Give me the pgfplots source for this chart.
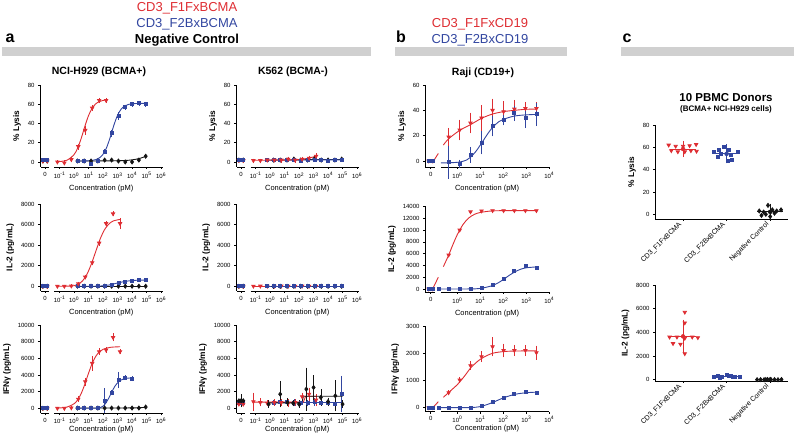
\documentclass[border=0pt]{standalone}
\usepackage{pgfplots}
\pgfplotsset{compat=1.18}
\usepackage{fontspec}
\setmainfont{Liberation Sans}
\definecolor{cR}{RGB}{222,45,50}
\definecolor{cB}{RGB}{50,70,160}
\definecolor{cK}{RGB}{20,20,20}
\definecolor{barg}{RGB}{208,208,208}
\newcommand\seg[2]{\draw[line width=0.8pt] ({axis cs:#1,0}|-{rel axis cs:0,0}) -- ({axis cs:#2,0}|-{rel axis cs:0,0});}
\pgfplotsset{
 gp/.style={scale only axis, anchor=south west,
  axis x line*=bottom, axis y line*=left,
  axis line style={line width=0.8pt},
  x axis line style={draw=none},
  tick align=outside, major tick length=2pt,
  tick style={line width=0.6pt, black},
  ticklabel style={font=\fontsize{6}{7}\selectfont},
  /pgf/number format/assume math mode=true,
  /pgf/number format/set thousands separator={},
  scaled y ticks=false, clip=false,
  xlabel style={font=\fontsize{7.5}{9}\selectfont},
  ylabel style={font=\bfseries\fontsize{8.3}{9}\selectfont},
 },
 gpa/.style={gp, width=122.5pt, xmin=-2.35, xmax=6.1, xtick={-2,-1,...,6},
  xticklabels={0,10\textsuperscript{-1},10\textsuperscript{0},10\textsuperscript{1},10\textsuperscript{2},10\textsuperscript{3},10\textsuperscript{4},10\textsuperscript{5},10\textsuperscript{6}},
  xlabel={Concentration (pM)}},
 gpb/.style={gp, width=124.3pt, xmin=-1.41, xmax=4.0, xtick={-1.16,0,1,2,3,4},
  xticklabels={0,10\textsuperscript{0},10\textsuperscript{1},10\textsuperscript{2},10\textsuperscript{3},10\textsuperscript{4}},
  xlabel={Concentration (pM)}},
 low/.style={xlabel style={yshift=4.5pt}, xticklabel style={yshift=1pt}},
 R/.style={color=cR, mark=triangle*, mark size=1.9pt, mark options={rotate=180,solid}, line width=0.8pt},
 B/.style={color=cB, mark=square*, mark size=1.5pt, mark options={solid}, line width=0.8pt},
 K/.style={color=cK, mark=diamond*, mark size=2pt, mark options={solid}, line width=0.8pt},
 fit/.style={no marks, smooth, line width=0.9pt},
 fitS/.style={no marks, sharp plot, line width=0.9pt},
 pts/.style={only marks},
 eb/.style={error bars/y dir=both, error bars/y explicit, error bars/error bar style={line width=0.6pt, solid}, error bars/error mark options={line width=0.6pt, mark size=1.5pt}},
}
\begin{document}
\begin{tikzpicture}
\useasboundingbox (0,0) rectangle (800pt,433pt);
% headers
\fill[barg] (2pt,377pt) rectangle (371pt,386pt);
\fill[barg] (395pt,377pt) rectangle (567pt,386pt);
\fill[barg] (621pt,377pt) rectangle (794pt,386pt);
\node[anchor=base, font=\bfseries\fontsize{16}{16}\selectfont] at (10pt,390pt) {a};
\node[anchor=base, font=\bfseries\fontsize{16}{16}\selectfont] at (401pt,390pt) {b};
\node[anchor=base, font=\bfseries\fontsize{16}{16}\selectfont] at (627pt,390pt) {c};
\node[anchor=base, font=\fontsize{13}{13}\selectfont, text=cR] at (187pt,421.5pt) {CD3\_F1FxBCMA};
\node[anchor=base, font=\fontsize{13}{13}\selectfont, text=cB] at (187pt,405.8pt) {CD3\_F2BxBCMA};
\node[anchor=base, font=\bfseries\fontsize{13}{13}\selectfont] at (187pt,389.7pt) {Negative Control};
\node[anchor=base, font=\fontsize{13}{13}\selectfont, text=cR] at (480pt,405.8pt) {CD3\_F1FxCD19};
\node[anchor=base, font=\fontsize{13}{13}\selectfont, text=cB] at (480pt,389.7pt) {CD3\_F2BxCD19};
\node[anchor=base, font=\bfseries\fontsize{10.5}{11}\selectfont] at (99pt,358pt) {NCI-H929 (BCMA+)};
\node[anchor=base, font=\bfseries\fontsize{10.5}{11}\selectfont] at (293pt,358pt) {K562 (BCMA-)};
\node[anchor=base, font=\bfseries\fontsize{10.5}{11}\selectfont] at (483pt,357.5pt) {Raji (CD19+)};
\node[anchor=base, font=\bfseries\fontsize{11.5}{12}\selectfont] at (726pt,331.3pt) {10 PBMC Donors};
\node[anchor=base, font=\bfseries\fontsize{8}{9}\selectfont] at (726pt,321.5pt) {(BCMA+ NCI-H929 cells)};

% ===== NCI-H929 lysis
\begin{axis}[gpa, at={(40pt,266pt)}, height=82pt, ymin=-5.2, ymax=80, ytick={0,20,...,80}, ylabel={\% Lysis}]
\seg{-2.25}{-1.7}\seg{-1.35}{6.1}
\addplot[K] coordinates {(-2.15,1)(-1.85,1)};
\addplot[R] coordinates {(-2.15,1)(-1.85,1)};
\addplot[B] coordinates {(-2.15,2)(-1.85,2)};
\addplot[K,fit] coordinates {(0.23,1)(2,1.1)(3,1.3)(3.5,1.5)(4,2.2)(4.5,3.6)(4.94,5.8)};
\addplot[K,pts] coordinates {(0.23,1)(0.70,1)(1.17,1)(1.64,1)(2.11,2)(2.59,2)(3.06,1)(3.53,0)(4.00,0)(4.47,2)(4.94,6)};
\addplot[B,fit] coordinates {(0.23,1.02)(1,1.28)(1.5,2.45)(1.75,4.26)(2,8.04)(2.25,15.2)(2.5,26)(2.75,38.4)(3,48.6)(3.25,55)(3.5,58.2)(3.75,59.8)(4,60.5)(4.5,60.9)(4.94,61)};
\addplot[B,pts,eb] coordinates {(0.23,1)+-(0,0) (0.70,1)+-(0,0) (1.17,-1.5)+-(0,0) (1.64,1.5)+-(0,0) (2.11,11)+-(0,1) (2.59,30)+-(0,2) (3.06,48)+-(0,2.5) (3.53,57)+-(0,1) (4.00,60)+-(0,1) (4.47,61)+-(0,1) (4.94,60)+-(0,1)};
\addplot[R,fit] coordinates {(-1.15,0.25)(-0.5,1.8)(0,7.7)(0.25,14.6)(0.5,24.9)(0.75,37.3)(1,48.3)(1.25,56)(1.5,60.5)(1.75,62.8)(2,64)(2.26,64.5)};
\addplot[R,pts,eb] coordinates {(-1.15,0)+-(0,0) (-0.67,-1)+-(0,1) (-0.19,2.5)+-(0,1) (0.29,16)+-(0,1.5) (0.77,33)+-(0,3) (1.25,56)+-(0,1.5) (1.73,64)+-(0,1) (2.21,64)+-(0,1)};
\end{axis}

% ===== NCI-H929 IL-2
\begin{axis}[gpa, at={(40pt,142pt)}, height=87pt, ymin=-457, ymax=8000, ytick={0,2000,...,8000}, ylabel={IL-2 (pg/mL)}]
\seg{-2.25}{-1.7}\seg{-1.35}{6.1}
\addplot[K] coordinates {(-2.15,0)(-1.85,0)};
\addplot[R] coordinates {(-2.15,0)(-1.85,0)};
\addplot[B] coordinates {(-2.15,0)(-1.85,0)};
\addplot[K,fit] coordinates {(0.23,10)(4.94,10)};
\addplot[K,pts] coordinates {(0.23,10)(0.70,10)(1.17,10)(1.64,10)(2.11,10)(2.59,10)(3.06,10)(3.53,10)(4.00,10)(4.47,10)(4.94,10)};
\addplot[B,fit] coordinates {(0.23,0)(1.5,10)(2,50)(2.5,150)(3,320)(3.5,470)(4,560)(4.5,595)(4.94,605)};
\addplot[B,pts] coordinates {(0.23,0)(0.70,0)(1.17,0)(1.64,0)(2.11,30)(2.59,130)(3.06,290)(3.53,450)(4.00,520)(4.47,580)(4.94,600)};
\addplot[R,fit] coordinates {(-1.15,0)(-0.5,10)(0,60)(0.3,200)(0.6,550)(0.9,1200)(1.2,2200)(1.5,3400)(1.8,4600)(2.1,5500)(2.4,6050)(2.7,6350)(3.17,6500)};
\addplot[R,pts,eb] coordinates {(-1.15,0)+-(0,0) (-0.67,0)+-(0,0) (-0.19,30)+-(0,0) (0.29,250)+-(0,50) (0.77,900)+-(0,80) (1.25,2300)+-(0,100) (1.73,4200)+-(0,100) (2.21,6100)+-(0,100) (2.69,7050)+-(0,100) (3.17,6100)+-(0,400)};
\end{axis}

% ===== NCI-H929 IFN
\begin{axis}[gpa, low, at={(40pt,19.7pt)}, height=88.3pt, ymin=-600, ymax=10000, ytick={0,2000,...,10000}, ylabel={IFNγ (pg/mL)}]
\seg{-2.25}{-1.7}\seg{-1.35}{6.1}
\addplot[K] coordinates {(-2.15,0)(-1.85,0)};
\addplot[R] coordinates {(-2.15,0)(-1.85,0)};
\addplot[B] coordinates {(-2.15,0)(-1.85,0)};
\addplot[K,fit] coordinates {(0.23,40)(3.5,40)(4.5,70)(4.94,120)};
\addplot[K,pts] coordinates {(0.23,30)(0.70,30)(1.17,30)(1.64,30)(2.11,30)(2.59,30)(3.06,30)(3.53,30)(4.00,30)(4.47,30)(4.94,150)};
\addplot[B,fit] coordinates {(0.23,0)(1.5,10)(1.8,80)(2,250)(2.2,650)(2.4,1250)(2.6,1950)(2.8,2600)(3,3050)(3.25,3400)(3.5,3580)(4,3650)};
\addplot[B,pts,eb] coordinates {(0.23,0)+-(0,0) (0.70,0)+-(0,0) (1.17,0)+-(0,0) (1.64,0)+-(0,0) (2.11,900)+-(0,1300) (2.59,1900)+-(0,100) (3.06,3400)+-(0,800) (3.53,3700)+-(0,100) (4.00,3550)+-(0,100)};
\addplot[R,fit] coordinates {(-1.15,23)(-0.5,140)(0,544)(0.25,1021)(0.5,1809)(0.75,2926)(1,4219)(1.25,5390)(1.5,6250)(1.75,6783)(2,7083)(2.5,7320)(3.17,7390)};
\addplot[R,pts,eb] coordinates {(-1.15,0)+-(0,0) (-0.67,0)+-(0,0) (-0.19,50)+-(0,0) (0.29,1100)+-(0,150) (0.77,3200)+-(0,300) (1.25,5400)+-(0,700) (1.73,6800)+-(0,200) (2.21,7000)+-(0,200) (2.69,8500)+-(0,300) (3.17,6800)+-(0,100)};
\end{axis}

% ===== K562 lysis
\begin{axis}[gpa, at={(236pt,266pt)}, height=82pt, ymin=-5.2, ymax=80, ytick={0,20,...,80}, ylabel={\% Lysis}]
\seg{-2.25}{-1.7}\seg{-1.35}{6.1}
\addplot[K] coordinates {(-2.15,2)(-1.85,2)};
\addplot[R] coordinates {(-2.15,1.5)(-1.85,1.5)};
\addplot[B] coordinates {(-2.15,2)(-1.85,2)};
\addplot[K,fit] coordinates {(0.23,2)(2,2.2)(3,2.6)(4.94,2.6)};
\addplot[K,pts] coordinates {(0.23,2)(0.70,2)(1.17,2)(1.64,3)(2.11,2)(2.59,2)(3.06,3.4)(3.53,2)(4.00,2)(4.47,2)(4.94,3)};
\addplot[B,fit] coordinates {(-0.24,2)(4.94,2.2)};
\addplot[B,pts] coordinates {(-0.24,2)(0.23,2)(0.70,2)(1.17,2)(1.64,2)(2.11,1.5)(2.59,2)(3.06,2.5)(3.53,2)(4.00,1.5)(4.47,2)(4.94,2.5)};
\addplot[R,fit] coordinates {(-1.15,1.8)(1,2)(2,2.6)(2.6,3.8)(3.17,6)};
\addplot[R,pts,eb] coordinates {(-1.15,1.5)+-(0,0.5) (-0.67,1.5)+-(0,0.5) (-0.19,2)+-(0,0.5) (0.29,2)+-(0,0.5) (0.77,2)+-(0,1) (1.25,3)+-(0,1) (1.73,2)+-(0,1) (2.21,3)+-(0,1) (2.69,4)+-(0,1) (3.17,6)+-(0,1.5)};
\end{axis}

% ===== K562 IL-2
\begin{axis}[gpa, at={(236pt,142pt)}, height=87pt, ymin=-457, ymax=8000, ytick={0,2000,...,8000}, ylabel={IL-2 (pg/mL)}]
\seg{-2.25}{-1.7}\seg{-1.35}{6.1}
\addplot[K] coordinates {(-2.15,0)(-1.85,0)};
\addplot[R] coordinates {(-2.15,0)(-1.85,0)};
\addplot[B] coordinates {(-2.15,0)(-1.85,0)};
\addplot[K,fit] coordinates {(0.23,0)(4.94,0)};
\addplot[K,pts] coordinates {(0.23,0)(0.70,0)(1.17,0)(1.64,0)(2.11,0)(2.59,0)(3.06,0)(3.53,0)(4.00,0)(4.47,0)(4.94,0)};
\addplot[R,fit] coordinates {(-1.15,10)(3.17,10)};
\addplot[R,pts] coordinates {(-1.15,10)(-0.67,20)(-0.19,10)(0.29,10)(0.77,20)(1.25,10)(1.73,10)(2.21,20)(2.69,10)(3.17,10)};
\addplot[B,fit] coordinates {(-0.24,0)(4.94,0)};
\addplot[B,pts] coordinates {(-0.24,0)(0.23,0)(0.70,0)(1.17,0)(1.64,0)(2.11,0)(2.59,0)(3.06,0)(3.53,0)(4.00,0)(4.47,0)(4.94,0)};
\end{axis}

% ===== K562 IFN
\begin{axis}[gpa, low, at={(236pt,19.7pt)}, height=88.3pt, ymin=-600, ymax=10000, ytick={0,2000,...,10000}, ylabel={IFNγ (pg/mL)}]
\seg{-2.25}{-1.7}\seg{-1.35}{6.1}
\addplot[B] coordinates {(-2.15,700)(-1.85,700)};
\addplot[R] coordinates {(-2.15,500)(-1.85,500)};
\addplot[K] coordinates {(-2.15,900)(-1.85,900)};
\addplot[K,pts,eb] coordinates {(-2,900)+-(0,600)};
\addplot[B,fitS] coordinates {(0.23,650)(4.94,650)};
\addplot[B,pts,eb] coordinates {(0.23,700)+-(0,100) (0.70,800)+-(0,200) (1.17,800)+-(0,200) (1.64,700)+-(0,200) (2.11,600)+-(0,150) (2.59,600)+-(0,200) (3.06,800)+-(0,300) (3.53,700)+-(0,200) (4.00,600)+-(0,200) (4.47,500)+-(0,200) (4.94,1700)+-(0,2000)};
\addplot[R,fitS] coordinates {(-1.15,750)(2.3,750)(2.45,1450)(3.17,1450)};
\addplot[R,pts,eb] coordinates {(-1.15,800)+-(0,900) (-0.67,700)+-(0,300) (-0.19,600)+-(0,200) (0.29,700)+-(0,200) (0.77,700)+-(0,200) (1.25,600)+-(0,300) (1.73,700)+-(0,200) (2.21,1400)+-(0,300) (2.69,1700)+-(0,600) (3.17,1000)+-(0,500)};
\addplot[K,fitS] coordinates {(-0.1,650)(2.2,650)(2.3,1450)(5,1450)};
\addplot[K,pts,eb] coordinates {(-0.1,500)+-(0,300) (0.7,1700)+-(0,1400) (1.2,700)+-(0,300) (1.6,600)+-(0,200) (2.0,500)+-(0,300) (2.5,2300)+-(0,2400) (3.0,2500)+-(0,1300) (3.5,1300)+-(0,800) (4.0,800)+-(0,300) (4.5,1500)+-(0,1700) (5.0,500)+-(0,300)};
\end{axis}

% ===== Raji lysis
\begin{axis}[gpb, at={(425pt,266pt)}, height=82pt, ymin=-4.7, ymax=60, ytick={0,20,...,60}, ylabel={\% Lysis}]
\seg{-1.41}{-0.97}\seg{-0.72}{4.0}
\addplot[R] coordinates {(-1.25,0)(-1.07,0)};
\addplot[B] coordinates {(-1.25,0)(-1.07,0)};
\addplot[R,fit] coordinates {(-1.04,0)(-0.83,6)};
\addplot[R,fit] coordinates {(-0.61,12.6)(-0.38,17.6)(0.1,24.2)(0.57,28.7)(1.05,33.7)(1.53,37.1)(2.01,39)(2.48,40)(2.96,40.8)(3.44,41)};
\addplot[R,pts,eb] coordinates {(-0.38,19)+-(0,6) (0.10,24.5)+-(0,7) (0.57,30)+-(0,7) (1.05,34)+-(0,9) (1.53,40)+-(0,8) (2.01,39)+-(0,7) (2.48,41)+-(0,6) (2.96,41.5)+-(0,4) (3.44,41.5)+-(0,4)};
\addplot[B,fit] coordinates {(-0.72,-1.5)(-0.38,-1.4)(0.1,-0.8)(0.4,0.8)(0.57,3)(0.8,7.5)(1.05,14)(1.3,21)(1.53,26.5)(1.8,31)(2.01,33)(2.48,35.5)(2.96,36.4)(3.44,36.8)};
\addplot[B,pts,eb] coordinates {(-0.38,-1)+-(0,12) (0.10,-2)+-(0,2) (0.57,5)+-(0,5) (1.05,14.5)+-(0,8) (1.53,27.6)+-(0,7) (2.01,32.4)+-(0,3) (2.48,37.6)+-(0,5) (2.96,34.2)+-(0,7) (3.44,36.8)+-(0,8)};
\end{axis}

% ===== Raji IL-2
\begin{axis}[gpb, at={(425pt,141pt)}, height=85.5pt, ymin=-509, ymax=14000, ytick={0,2000,...,14000}, ylabel={IL-2 (pg/mL)}]
\seg{-1.41}{-0.97}\seg{-0.72}{4.0}
\addplot[R] coordinates {(-1.25,0)(-1.07,0)};
\addplot[B] coordinates {(-1.25,0)(-1.07,0)};
\addplot[R,fit] coordinates {(-1.04,300)(-0.83,2000)};
\addplot[R,fit] coordinates {(-0.61,3800)(-0.38,5760)(-0.2,7490)(0,9260)(0.25,10980)(0.5,12070)(0.75,12680)(1,12990)(1.5,13250)(2,13290)(3.44,13300)};
\addplot[R,pts] coordinates {(-0.38,5760)(0.10,10000)(0.57,13100)(1.05,13250)(1.53,13300)(2.01,13300)(2.48,13300)(2.96,13300)(3.44,13300)};
\addplot[B,fit] coordinates {(-0.8,0)(0.5,10)(1,100)(1.5,550)(1.8,1100)(2,1600)(2.25,2300)(2.5,2900)(2.75,3350)(3,3600)(3.44,3750)};
\addplot[B,pts] coordinates {(-0.8,0)(-0.38,0)(0.10,0)(0.57,20)(1.05,150)(1.53,700)(2.01,1700)(2.48,3000)(2.96,3900)(3.44,3600)};
\end{axis}

% ===== Raji IFN
\begin{axis}[gpb, low, at={(425pt,21.3pt)}, height=85.7pt, ymin=-147, ymax=3000, ytick={0,1000,...,3000}, ylabel={IFNγ (pg/mL)}]
\seg{-1.41}{-0.97}\seg{-0.72}{4.0}
\addplot[R] coordinates {(-1.25,0)(-1.07,0)};
\addplot[B] coordinates {(-1.25,0)(-1.07,0)};
\addplot[R,fit] coordinates {(-1.04,30)(-0.83,220)};
\addplot[R,fit] coordinates {(-0.61,380)(-0.38,560)(0,850)(0.3,1150)(0.6,1480)(1,1780)(1.5,1990)(2,2060)(2.5,2080)(3.44,2090)};
\addplot[R,pts,eb] coordinates {(-0.38,552)+-(0,40) (0.10,1018)+-(0,60) (0.57,1545)+-(0,100) (1.05,1875)+-(0,150) (1.53,2240)+-(0,300) (2.01,2100)+-(0,200) (2.48,2100)+-(0,150) (2.96,2100)+-(0,150) (3.44,2020)+-(0,200)};
\addplot[B,fit] coordinates {(-0.8,0)(0.5,5)(1,40)(1.5,180)(2,360)(2.5,490)(3,550)(3.44,570)};
\addplot[B,pts] coordinates {(-0.8,0)(-0.38,0)(0.10,0)(0.57,0)(1.05,50)(1.53,210)(2.01,360)(2.48,495)(2.96,580)(3.44,545)};
\end{axis}

% ===== Panel c lysis
\begin{axis}[gp, at={(655pt,214pt)}, width=133pt, height=94pt, x axis line style={draw=black},
 xmin=-0.644, xmax=2.41, ymin=-4.2, ymax=80, ytick={0,20,...,80}, xtick={0,1,2},
 xticklabels={CD3\_F1FxBCMA,CD3\_F2BxBCMA,Negative Control},
 xticklabel style={rotate=45, anchor=east, font=\fontsize{7}{7}\selectfont},
 ylabel={\% Lysis}]
\addplot[R,pts] coordinates {(-0.33,62)(-0.17,61)(0,61)(0.15,61.5)(0.3,62.5)(-0.27,57)(-0.12,56)(0.04,56)(0.18,57)(0.31,56.5)};
\addplot[cR, line width=0.9pt] coordinates {(-0.3,58.5)(0.3,58.5)};
\addplot[cR, only marks, mark=none, eb, error bars/error mark options={line width=0.8pt, mark size=5pt}] coordinates {(0,58.5)+-(0,2.7)};
\addplot[B,pts] coordinates {(0.7,55.5)(0.82,57.5)(0.94,60)(1.05,58)(1.25,56)(0.88,54)(1.1,53.5)(0.8,51)(1.12,49)(1.02,47.5)};
\addplot[cB, line width=0.9pt] coordinates {(0.7,54.2)(1.3,54.2)};
\addplot[cB, only marks, mark=none, eb, error bars/error mark options={line width=0.8pt, mark size=5pt}] coordinates {(1,54.2)+-(0,4)};
\addplot[K,pts] coordinates {(1.75,3)(1.85,2)(1.95,8)(2.05,4)(2.15,3)(2.25,4)(1.9,0)(2.1,1)(1.8,-1)(2,-2)};
\addplot[cK, line width=0.9pt] coordinates {(1.7,2.2)(2.3,2.2)};
\addplot[cK, only marks, mark=none, eb, error bars/error mark options={line width=0.8pt, mark size=5pt}] coordinates {(2,2.2)+-(0,3)};
\end{axis}

% ===== Panel c IL-2
\begin{axis}[gp, at={(655pt,52pt)}, width=133pt, height=96pt, x axis line style={draw=black},
 xmin=-0.644, xmax=2.41, ymin=-110, ymax=8000, ytick={0,2000,...,8000}, xtick={0,1,2},
 xticklabels={CD3\_F1FxBCMA,CD3\_F2BxBCMA,Negative Control},
 xticklabel style={rotate=45, anchor=east, font=\fontsize{7}{7}\selectfont},
 ylabel={IL-2 (pg/mL)}]
\addplot[R,pts] coordinates {(0.04,5700)(0.04,4800)(-0.31,3600)(-0.14,3600)(0.04,3500)(0.21,3600)(0.34,3550)(-0.23,3050)(-0.06,3000)(0.04,2200)};
\addplot[cR, line width=0.9pt] coordinates {(-0.3,3660)(0.3,3660)};
\addplot[cR, only marks, mark=none, eb, error bars/error mark options={line width=0.8pt, mark size=5pt}] coordinates {(0,3660)+-(0,1000)};
\addplot[B,pts] coordinates {(0.7,200)(0.8,300)(0.9,250)(1,400)(1.1,300)(1.2,250)(1.3,200)(0.85,150)(1.05,350)(1.15,200)};
\addplot[cB, line width=0.9pt] coordinates {(0.7,260)(1.3,260)};
\addplot[K,pts] coordinates {(1.7,0)(1.78,10)(1.86,0)(1.94,20)(2.02,0)(2.1,10)(2.18,0)(2.26,20)(2.0,30)(1.9,10)};
\addplot[cK, line width=0.9pt] coordinates {(1.7,10)(2.3,10)};
\end{axis}
\end{tikzpicture}
\end{document}
